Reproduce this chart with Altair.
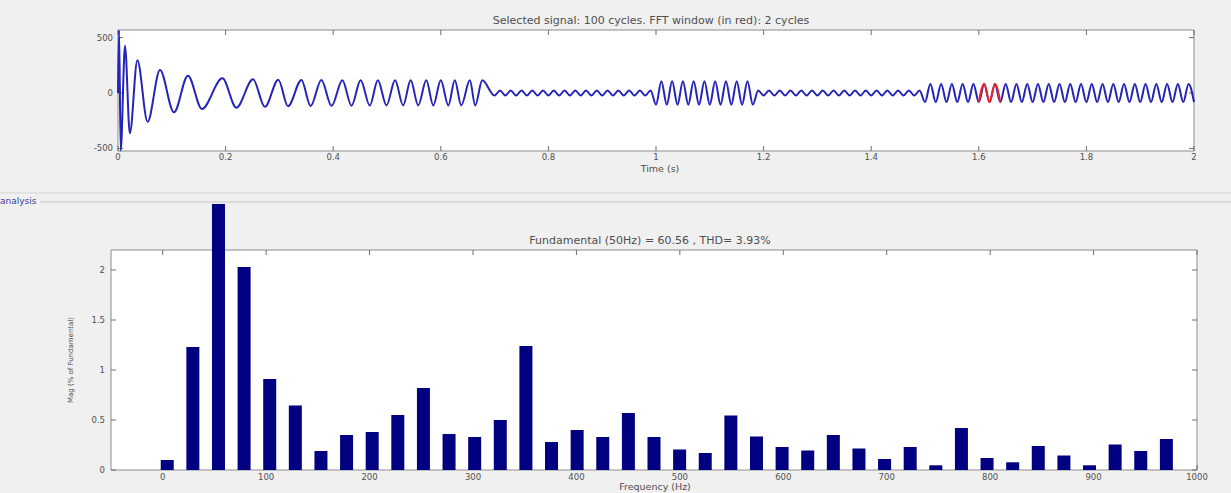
import altair as alt
import pandas as pd

FONT = "DejaVu Sans"
TXT = "#4f4f4f"

# ---------------- top panel: signal (extrema) ----------------
# start-up part: times (s) and values of successive peaks / troughs
start_t = [0.000, 0.002, 0.005, 0.013, 0.022, 0.036, 0.055, 0.078, 0.104, 0.130,
           0.156, 0.194, 0.220, 0.251, 0.273, 0.298, 0.316, 0.341, 0.358, 0.378,
           0.397, 0.417, 0.434, 0.451, 0.468, 0.483, 0.499, 0.515, 0.530, 0.544,
           0.558, 0.573, 0.586, 0.600, 0.614, 0.626, 0.638, 0.654, 0.664, 0.677]
start_v = [0, 565, -520, 426, -363, 295, -260, 207, -174, 156,
           -144, 132, -132, 123, -125, 120, -120, 118, -118, 117,
           -116, 116, -114, 115, -113, 115, -112, 114, -112, 114,
           -112, 114, -112, 114, -112, 114, -112, 114, -112, 114]

# steady 50 Hz part: envelope segments
seg_start = [0.70, 1.00, 1.19, 1.50]
seg_end = [1.00, 1.19, 1.50, 2.001]
seg_amp = [23, 105, 23, 82]
fft_window = [1.60, 1.64]

# ---------------- bottom panel: FFT bars ----------------
freqs = [0, 25, 50, 75, 100, 125, 150, 175, 200, 225,
         250, 275, 300, 325, 350, 375, 400, 425, 450, 475,
         500, 525, 550, 575, 600, 625, 650, 675, 700, 725,
         750, 775, 800, 825, 850, 875, 900, 925, 950, 975]
mags = [0.10, 1.23, 2.66, 2.03, 0.91, 0.645, 0.19, 0.35, 0.38, 0.55,
        0.82, 0.36, 0.33, 0.50, 1.24, 0.28, 0.40, 0.33, 0.57, 0.33,
        0.205, 0.17, 0.545, 0.335, 0.23, 0.195, 0.35, 0.215, 0.11, 0.23,
        0.047, 0.42, 0.12, 0.077, 0.24, 0.145, 0.047, 0.255, 0.19, 0.31]

top_xticks = [0, 0.2, 0.4, 0.6, 0.8, 1.0, 1.2, 1.4, 1.6, 1.8, 2.0]
top_xlabels = ["0", "0.2", "0.4", "0.6", "0.8", "1", "1.2", "1.4", "1.6", "1.8", "2"]
top_yticks = [-500, 0, 500]
top_ylabels = ["-500", "0", "500"]
bot_xticks = [0, 100, 200, 300, 400, 500, 600, 700, 800, 900, 1000]
bot_xlabels = [str(v) for v in bot_xticks]
bot_yticks = [0, 0.5, 1, 1.5, 2]
bot_ylabels = ["0", "0.5", "1", "1.5", "2"]

# ---------------- scales ----------------
TX = [0, 2]
TY = [-523, 568]
BX = [-50, 1000]
BY = [0, 2.2]
top_x = alt.Scale(domain=TX, range=[118, 1194], nice=False, zero=False)
top_y = alt.Scale(domain=TY, range=[151, 30], nice=False, zero=False)
bot_x = alt.Scale(domain=BX, range=[111, 1197], nice=False, zero=False)
bot_y = alt.Scale(domain=BY, range=[470, 250], nice=False, zero=False)

# build signal table
sig_t = list(start_t)
sig_v = list(start_v)
k = 0
while True:
    t = round(seg_start[0] + 0.01 * k, 2)
    if t > 2.0:
        break
    amp = 0
    for s0, s1, a in zip(seg_start, seg_end, seg_amp):
        if s0 <= t < s1:
            amp = a
    sig_t.append(t)
    sig_v.append(-amp if k % 2 == 0 else amp)
    k += 1
sig = pd.DataFrame({"t": sig_t, "v": sig_v})
red = sig[(sig.t >= fft_window[0] - 1e-9) & (sig.t <= fft_window[1] + 1e-9)]


def frame(xs, ys, xd, yd):
    df = pd.DataFrame({"x": [xd[0]], "x2": [xd[1]], "y": [yd[0]], "y2": [yd[1]]})
    return alt.Chart(df).mark_rect(fill="white", stroke="#8c8c8c", strokeWidth=1).encode(
        x=alt.X("x:Q", scale=xs, axis=None), x2="x2",
        y=alt.Y("y:Q", scale=ys, axis=None), y2="y2")


def xticks(xs, ys, vals, yd, ylen):
    rows = []
    for v in vals:
        rows.append({"p": v, "a": yd[0], "b": yd[0] + ylen})
        rows.append({"p": v, "a": yd[1], "b": yd[1] - ylen})
    return alt.Chart(pd.DataFrame(rows)).mark_rule(color="#6e6e6e", strokeWidth=1).encode(
        x=alt.X("p:Q", scale=xs, axis=None),
        y=alt.Y("a:Q", scale=ys, axis=None), y2="b")


def yticks(xs, ys, vals, xd, xlen):
    rows = []
    for v in vals:
        rows.append({"p": v, "a": xd[0], "b": xd[0] + xlen})
        rows.append({"p": v, "a": xd[1], "b": xd[1] - xlen})
    return alt.Chart(pd.DataFrame(rows)).mark_rule(color="#6e6e6e", strokeWidth=1).encode(
        y=alt.Y("p:Q", scale=ys, axis=None),
        x=alt.X("a:Q", scale=xs, axis=None), x2="b")


def xlabels(xs, ys, vals, labels, yv, dy):
    df = pd.DataFrame({"p": vals, "lab": labels, "y": [yv] * len(vals)})
    return alt.Chart(df).mark_text(font=FONT, fontSize=8.5, color=TXT, baseline="middle",
                                   align="center", dy=dy).encode(
        x=alt.X("p:Q", scale=xs, axis=None), y=alt.Y("y:Q", scale=ys, axis=None), text="lab:N")


def ylabels(xs, ys, vals, labels, xv, dx):
    df = pd.DataFrame({"p": vals, "lab": labels, "x": [xv] * len(vals)})
    return alt.Chart(df).mark_text(font=FONT, fontSize=8.5, color=TXT, baseline="middle",
                                   align="right", dx=dx).encode(
        y=alt.Y("p:Q", scale=ys, axis=None), x=alt.X("x:Q", scale=xs, axis=None), text="lab:N")


def label(text, x, y, size, angle=0, color=TXT, align="center"):
    kw = dict(font=FONT, fontSize=size, color=color, baseline="middle", align=align, text=text)
    if angle:
        kw["angle"] = angle
    return alt.Chart(pd.DataFrame({"d": [0]})).mark_text(**kw).encode(
        x=alt.value(x), y=alt.value(y))


def hline(x1, x2, y, color):
    return alt.Chart(pd.DataFrame({"d": [0]})).mark_rule(color=color, strokeWidth=1).encode(
        x=alt.value(x1), x2=alt.value(x2), y=alt.value(y))


wave = alt.Chart(sig).mark_line(color="#2424b8", strokeWidth=2.0, interpolate="monotone").encode(
    x=alt.X("t:Q", scale=top_x, axis=None), y=alt.Y("v:Q", scale=top_y, axis=None))
wave_red = alt.Chart(red).mark_line(color="#ee2222", strokeWidth=2.0, interpolate="monotone").encode(
    x=alt.X("t:Q", scale=top_x, axis=None), y=alt.Y("v:Q", scale=top_y, axis=None))

bars = alt.Chart(pd.DataFrame({"f": freqs, "m": mags})).mark_bar(
    size=13, color="#000080", clip=False).encode(
    x=alt.X("f:Q", scale=bot_x, axis=None), y=alt.Y("m:Q", scale=bot_y, axis=None))

layers = [
    hline(0, 1231, 193, "#d6d6d6"),
    hline(40, 1231, 202, "#c4c4c4"),
    label("analysis", 0, 201, 9, color="#3b3ba6", align="left"),
    frame(top_x, top_y, TX, TY),
    xticks(top_x, top_y, top_xticks, TY, 45),
    yticks(top_x, top_y, top_yticks, TX, 0.0095),
    wave, wave_red,
    xlabels(top_x, top_y, top_xticks, top_xlabels, TY[0], 6),
    ylabels(top_x, top_y, top_yticks, top_ylabels, TX[0], -5),
    label("Selected signal: 100 cycles. FFT window (in red): 2 cycles", 651, 21, 11),
    label("Time (s)", 660, 169, 9.5),
    frame(bot_x, bot_y, BX, BY),
    xticks(bot_x, bot_y, bot_xticks, BY, 0.05),
    yticks(bot_x, bot_y, bot_yticks, BX, 4.8),
    bars,
    xlabels(bot_x, bot_y, bot_xticks, bot_xlabels, BY[0], 7),
    ylabels(bot_x, bot_y, bot_yticks, bot_ylabels, BX[0], -6),
    label("Fundamental (50Hz) = 60.56 , THD= 3.93%", 650, 241, 11),
    label("Frequency (Hz)", 655, 487, 9.5),
    label("Mag (% of Fundamental)", 71, 360, 7, angle=270),
]

chart = alt.layer(*layers).resolve_scale(x="independent", y="independent").properties(
    width=1231, height=493,
    autosize=alt.AutoSizeParams(type="none"),
    padding=0,
    background="#f0f0f0",
).configure_view(stroke="transparent")

chart.save("out.html", embed_options={"renderer": "svg", "actions": False})
